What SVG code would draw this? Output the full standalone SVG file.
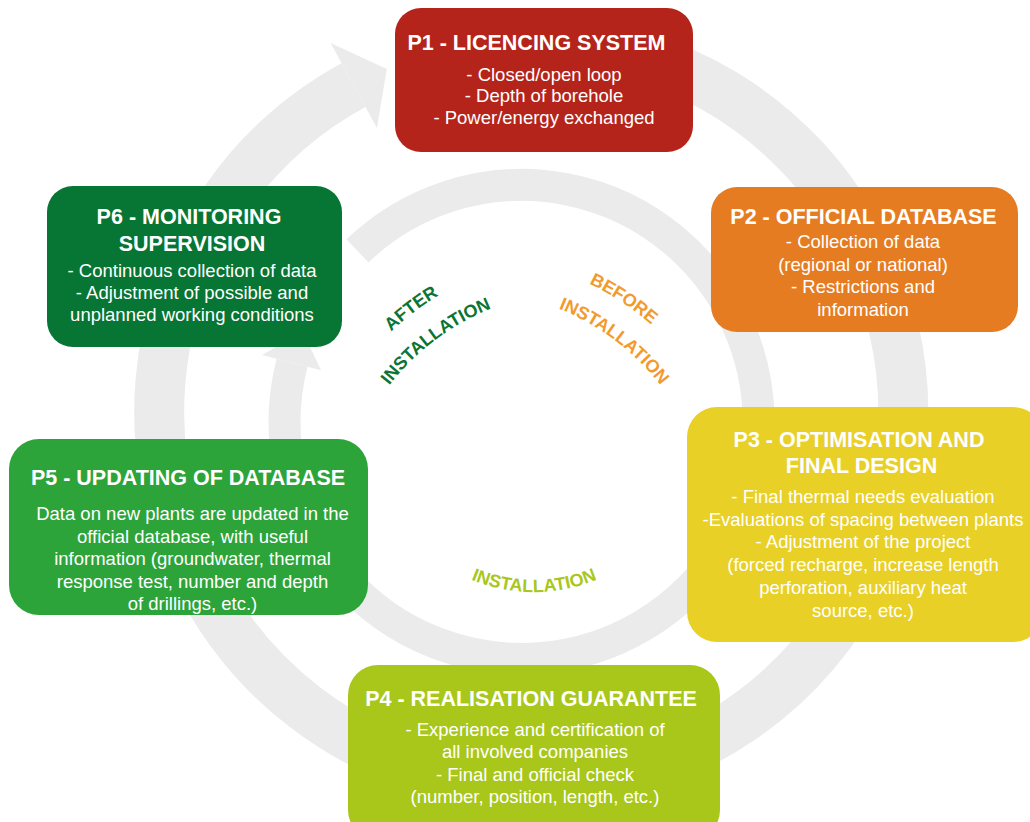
<svg xmlns="http://www.w3.org/2000/svg" width="1030" height="822" viewBox="0 0 1030 822">
<style>
.ring{fill:none;stroke:#ebebeb}
.head{fill:#ebebeb}
.t{font-family:'Liberation Sans',Arial,sans-serif;font-weight:bold;font-size:21.5px;fill:#fff;text-anchor:middle}
.b{font-family:'Liberation Sans',Arial,sans-serif;font-size:18.5px;fill:#fff;text-anchor:middle}
.c{font-family:'Liberation Sans',Arial,sans-serif;font-weight:bold;font-size:18px;text-anchor:middle}
</style>
<defs>
<path id="arcAfter1" d="M305.6,496.2 A279,279 0 0,1 620.8,258.7"/>
<path id="arcAfter2" d="M340.4,501 A244,244 0 0,1 616,293.4"/>
<path id="arcBefore1" d="M429.2,258.7 A279,279 0 0,1 744.4,496.2"/>
<path id="arcBefore2" d="M434,293.4 A244,244 0 0,1 709.6,501"/>
<path id="arcInst" d="M418,544 A164,164 0 0,0 650,544"/>
</defs>
<rect width="1030" height="822" fill="#fff"/>
<g id="connectors">
<path class="ring" stroke-width="50" d="M466.4,45.6 A372,372 0 1,1 353.5,85.1"/>
<polygon class="head" points="330.6,42.9 386.8,69.1 376.9,128.1"/>
<path class="ring" stroke-width="32" d="M357.5,250.9 A237,237 0 1,1 292.1,362.7"/>
<polygon class="head" points="262.1,354.9 302.5,331.3 321.1,370.2"/>
</g>
<g id="p1">
<rect x="395" y="8" width="298" height="144" rx="26" fill="#b5241b"/>
<text class="t" x="536.5" y="50">P1 - LICENCING SYSTEM</text>
<text class="b" x="544" y="80.5">- Closed/open loop</text>
<text class="b" x="544" y="102">- Depth of borehole</text>
<text class="b" x="544" y="124">- Power/energy exchanged</text>
</g>
<g id="p2">
<rect x="711" y="187" width="307" height="145" rx="26" fill="#e67c22"/>
<text class="t" x="863.5" y="224">P2 - OFFICIAL DATABASE</text>
<text class="b" x="863" y="248">- Collection of data</text>
<text class="b" x="863" y="270.5">(regional or national)</text>
<text class="b" x="863" y="293">- Restrictions and</text>
<text class="b" x="863" y="315.5">information</text>
</g>
<g id="p3">
<rect x="687" y="407" width="356" height="235" rx="30" fill="#e9d027"/>
<text class="t" x="859" y="447">P3 - OPTIMISATION AND</text>
<text class="t" x="861.5" y="473">FINAL DESIGN</text>
<text class="b" x="863" y="503">- Final thermal needs evaluation</text>
<text class="b" x="863" y="525.7">-Evaluations of spacing between plants</text>
<text class="b" x="863" y="548.4">- Adjustment of the project</text>
<text class="b" x="863" y="571.1">(forced recharge, increase length</text>
<text class="b" x="863" y="593.8">perforation, auxiliary heat</text>
<text class="b" x="863" y="616.5">source, etc.)</text>
</g>
<g id="p4">
<rect x="348" y="665" width="372" height="175" rx="30" fill="#a9c71b"/>
<text class="t" x="531" y="706">P4 - REALISATION GUARANTEE</text>
<text class="b" x="535" y="736">- Experience and certification of</text>
<text class="b" x="535" y="758">all involved companies</text>
<text class="b" x="535" y="780.5">- Final and official check</text>
<text class="b" x="535" y="803">(number, position, length, etc.)</text>
</g>
<g id="p5">
<rect x="9" y="439" width="359" height="176" rx="30" fill="#2ca43a"/>
<text class="t" x="188" y="485">P5 - UPDATING OF DATABASE</text>
<text class="b" x="192.5" y="520">Data on new plants are updated in the</text>
<text class="b" x="192.5" y="542.5">official database, with useful</text>
<text class="b" x="192.5" y="565">information (groundwater, thermal</text>
<text class="b" x="192.5" y="587.5">response test, number and depth</text>
<text class="b" x="192.5" y="610">of drillings, etc.)</text>
</g>
<g id="p6">
<rect x="47" y="186" width="295" height="161" rx="26" fill="#077533"/>
<text class="t" x="189" y="224">P6 - MONITORING</text>
<text class="t" x="192" y="251">SUPERVISION</text>
<text class="b" x="192" y="276.5">- Continuous collection of data</text>
<text class="b" x="192" y="299">- Adjustment of possible and</text>
<text class="b" x="192" y="321">unplanned working conditions</text>
</g>
<g id="phase-labels">
<text class="c" fill="#0a7535"><textPath href="#arcAfter1" startOffset="50%">AFTER</textPath></text>
<text class="c" fill="#0a7535"><textPath href="#arcAfter2" startOffset="50%">INSTALLATION</textPath></text>
<text class="c" fill="#f39a2c"><textPath href="#arcBefore1" startOffset="46%">BEFORE</textPath></text>
<text class="c" fill="#f39a2c"><textPath href="#arcBefore2" startOffset="50%">INSTALLATION</textPath></text>
<text class="c" fill="#a9c71b"><textPath href="#arcInst" startOffset="50%">INSTALLATION</textPath></text>
</g>
</svg>
